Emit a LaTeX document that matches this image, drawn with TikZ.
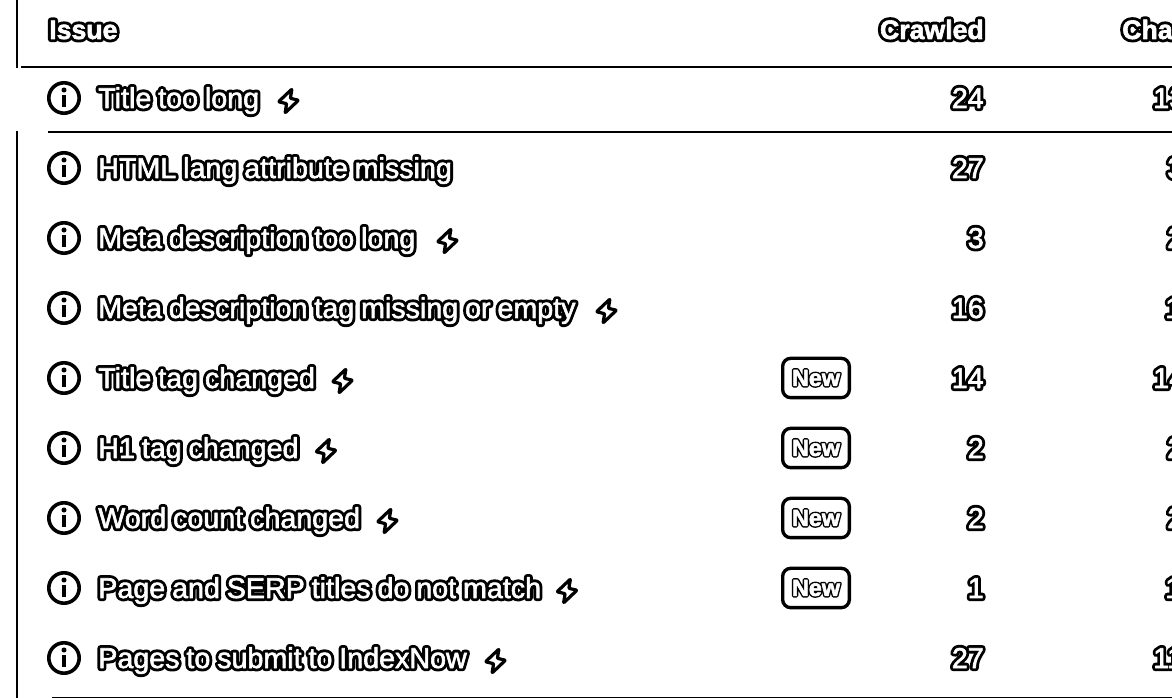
\documentclass[tikz,border=0pt]{standalone}
\usepackage{fontspec}
\setmainfont{Liberation Sans}
\usetikzlibrary{positioning}
\definecolor{ink}{RGB}{0,0,0}
%% black stroked layer under a white layer
\newcommand{\halotext}[2][4.8]{\spaceskip=0.24em\relax\rlap{\textcolor{ink}{\special{pdf:code 2 Tr 1 j 1 J #1 w}#2\special{pdf:code 0 Tr 0 j 0 J 0.4 w}}}\textcolor{white}{\special{pdf:code 2 Tr 1 j 0.45 w}#2\special{pdf:code 0 Tr 0 j 0.4 w}}}
\tikzset{
  rowlabel/.style={anchor=base west,inner sep=0pt,font=\fontsize{21.5pt}{24pt}\selectfont},
  numlabel/.style={anchor=base east,inner sep=0pt,font=\fontsize{21.5pt}{24pt}\selectfont},
  sidelabel/.style={anchor=base west,inner sep=0pt,font=\fontsize{21.5pt}{24pt}\selectfont},
  headlabel/.style={inner sep=0pt,font=\bfseries\fontsize{20pt}{24pt}\selectfont},
  rule/.style={line width=2.2pt,ink},
  sideline/.style={line width=1.5pt,ink},
  newbox/.style={draw=ink,line width=2.5pt,rounded corners=6pt,minimum width=50pt,minimum height=29.5pt,inner sep=0pt,font=\bfseries\fontsize{17.5pt}{18pt}\selectfont},
  infoicon/.pic={
    \draw[ink,line width=2.7pt] (0,0) circle (11.4pt);
    \fill[ink] (0,6pt) circle (1.9pt);
    \fill[ink] (-1.7pt,-6.8pt) rectangle (1.7pt,2.4pt);
  },
  bolticon/.pic={
    \draw[ink,line width=2.4pt,line join=round,rounded corners=0.6pt]
      (2.6pt,9pt) -- (-7.5pt,-0.6pt) -- (-1.4pt,-2pt) -- (-2.6pt,-9pt)
      -- (7.5pt,0.6pt) -- (1.4pt,2pt) -- cycle;
  },
}
\begin{document}
\begin{tikzpicture}[x=0.75pt,y=-0.75pt]
  \clip (0,0) rectangle (1172,698);
  \useasboundingbox (0,0) rectangle (1172,698);
  %% Frame lines
  \coordinate (sidetopa) at (17,-2);
  \coordinate (sidetopb) at (17,68);
  \coordinate (sidelowa) at (17,131);
  \coordinate (sidelowb) at (17,700);
  \draw[sideline] (sidetopa) -- (sidetopb);
  \draw[sideline] (sidelowa) -- (sidelowb);
  \coordinate (headl) at (21,67);
  \coordinate (headr) at (1174,67);
  \coordinate (pinl) at (48,132);
  \coordinate (pinr) at (1174,132);
  \coordinate (footl) at (52,698);
  \coordinate (footr) at (1174,698);
  \draw[rule] (headl) -- (headr);
  \draw[rule] (pinl) -- (pinr);
  \draw[rule] (footl) -- (footr);
  %% Header
  \node[headlabel,anchor=base west] (issue) at (49,39) {\halotext{Issue}};
  \node[headlabel,anchor=base east] (crawled) at (984,39) {\halotext{Crawled}};
  \node[headlabel,anchor=base west] (changed) at (1122,39) {\halotext{Cha}};
  %% Rows
  \pic at (64,98) {infoicon};
  \node[rowlabel] (r1) at (98,108) {\halotext{Title too long}};
  \pic at (288.5,101) {bolticon};
  \node[numlabel] (c1) at (984,108) {\halotext{24}};
  \node[sidelabel] (d1) at (1153,108) {\halotext{13}};

  \pic at (64,168) {infoicon};
  \node[rowlabel] (r2) at (98,178) {\halotext{HTML lang attribute missing}};
  \node[numlabel] (c2) at (984,178) {\halotext{27}};
  \node[sidelabel] (d2) at (1167,178) {\halotext{3}};

  \pic at (64,238) {infoicon};
  \node[rowlabel] (r3) at (98,248) {\halotext{Meta description too long}};
  \pic at (447.5,241) {bolticon};
  \node[numlabel] (c3) at (984,248) {\halotext{3}};
  \node[sidelabel] (d3) at (1167,248) {\halotext{2}};

  \pic at (64,308) {infoicon};
  \node[rowlabel] (r4) at (98,318) {\halotext{Meta description tag missing or empty}};
  \pic at (606.5,311) {bolticon};
  \node[numlabel] (c4) at (984,318) {\halotext{16}};
  \node[sidelabel] (d4) at (1165,318) {\halotext{1}};

  \pic at (64,378) {infoicon};
  \node[rowlabel] (r5) at (98,388) {\halotext{Title tag changed}};
  \pic at (342.5,381) {bolticon};
  \node[newbox] (n5) at (816,378) {\halotext[2.6]{New}};
  \node[numlabel] (c5) at (984,388) {\halotext{14}};
  \node[sidelabel] (d5) at (1153,388) {\halotext{14}};

  \pic at (64,448) {infoicon};
  \node[rowlabel] (r6) at (98,458) {\halotext{H1 tag changed}};
  \pic at (326,451) {bolticon};
  \node[newbox] (n6) at (816,448) {\halotext[2.6]{New}};
  \node[numlabel] (c6) at (984,458) {\halotext{2}};
  \node[sidelabel] (d6) at (1167,458) {\halotext{2}};

  \pic at (64,518) {infoicon};
  \node[rowlabel] (r7) at (98,528) {\halotext{Word count changed}};
  \pic at (387.5,521) {bolticon};
  \node[newbox] (n7) at (816,518) {\halotext[2.6]{New}};
  \node[numlabel] (c7) at (984,528) {\halotext{2}};
  \node[sidelabel] (d7) at (1167,528) {\halotext{2}};

  \pic at (64,588) {infoicon};
  \node[rowlabel] (r8) at (98,598) {\halotext{Page and SERP titles do not match}};
  \pic at (567,591) {bolticon};
  \node[newbox] (n8) at (816,588) {\halotext[2.6]{New}};
  \node[numlabel] (c8) at (984,598) {\halotext{1}};
  \node[sidelabel] (d8) at (1165,598) {\halotext{1}};

  \pic at (64,658) {infoicon};
  \node[rowlabel] (r9) at (98,668) {\halotext{Pages to submit to IndexNow}};
  \pic at (495.5,661) {bolticon};
  \node[numlabel] (c9) at (984,668) {\halotext{27}};
  \node[sidelabel] (d9) at (1153,668) {\halotext{11}};
\end{tikzpicture}
\end{document}
